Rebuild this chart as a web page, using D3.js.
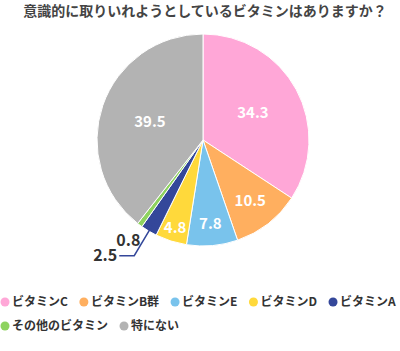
<!DOCTYPE html>
<html>
<head>
<meta charset="utf-8">
<script src="https://cdn.jsdelivr.net/npm/d3@7"></script>
<style>
  body { margin: 0; background: #fff; }
  svg { font-family: "Noto Sans CJK JP", "Noto Sans", sans-serif; font-weight: bold; }
</style>
</head>
<body>
<div id="chart"></div>
<script>
const title = '意識的に取りいれようとしているビタミンはありますか？';
const categories = ['ビタミンC', 'ビタミンB群', 'ビタミンE', 'ビタミンD', 'ビタミンA', 'その他のビタミン', '特にない'];
const values = [34.3, 10.5, 7.8, 4.8, 2.5, 0.8, 39.5];
const colors = ['#FFA7D7', '#FFAF5F', '#79C3EC', '#FFD93B', '#34479A', '#8ED35F', '#B3B3B3'];

const width = 400;
const height = 351;
const cx = 203, cy = 140, radius = 106;

const svg = d3.select('#chart').append('svg')
    .attr('width', width)
    .attr('height', height);

// title
svg.append('text')
    .attr('x', 205)
    .attr('y', 16)
    .attr('text-anchor', 'middle')
    .style('font-size', '14px')
    .style('fill', '#444')
    .text(title);

const data = categories.map((c, i) => ({ name: c, value: values[i], color: colors[i] }));

const pie = d3.pie().value(d => d.value).sort(null);
const arcs = pie(data);
const arc = d3.arc().innerRadius(0).outerRadius(radius);

const g = svg.append('g').attr('transform', 'translate(' + cx + ',' + cy + ')');

g.selectAll('path')
    .data(arcs)
    .join('path')
    .attr('d', arc)
    .attr('fill', d => d.data.color)
    .attr('stroke', '#fff')
    .attr('stroke-width', 1);

// small slices get their labels further out
const labelR = d3.scaleLinear().domain([5, 10, 35]).range([0.87, 0.73, 0.53]).clamp(true);
const mid = d => (d.startAngle + d.endAngle) / 2;
const polar = (a, r) => [Math.sin(a) * r, -Math.cos(a) * r];

const inside = arcs.filter(d => d.data.value >= 4);
g.selectAll('text.in')
    .data(inside)
    .join('text')
    .attr('class', 'in')
    .attr('x', d => polar(mid(d), labelR(d.data.value) * radius)[0])
    .attr('y', d => polar(mid(d), labelR(d.data.value) * radius)[1])
    .attr('text-anchor', 'middle')
    .attr('dy', '0.35em')
    .style('font-size', '15px')
    .style('fill', '#fff')
    .text(d => d.data.value.toFixed(1));

// outside labels
const small = arcs.filter(d => d.data.value < 4);
small.forEach(d => {
    const a = mid(d);
    if (d.data.value >= 2) {
        // leader line
        const p0 = polar(a, radius * 0.87);
        const p1 = polar(a, radius * 1.27);
        const p2 = [p1[0] - 15, p1[1]];
        g.append('polyline')
            .attr('points', [p0, p1, p2].map(p => p.join(',')).join(' '))
            .attr('fill', 'none')
            .attr('stroke', d.data.color)
            .attr('stroke-width', 1.5);
        g.append('text')
            .attr('x', p2[0] - 2)
            .attr('y', p2[1])
            .attr('dy', '0.35em')
            .attr('text-anchor', 'end')
            .style('font-size', '16px')
            .style('fill', '#333')
            .text(d.data.value.toFixed(1));
    } else {
        const p = polar(a, radius * 1.18);
        g.append('text')
            .attr('x', p[0])
            .attr('y', p[1])
            .attr('dy', '0.35em')
            .attr('text-anchor', 'middle')
            .style('font-size', '16px')
            .style('fill', '#333')
            .text(d.data.value.toFixed(1));
    }
});

// legend, flowing left to right
const legend = svg.append('g');
let lx = 5, ly = 302;
data.forEach(d => {
    const item = legend.append('g');
    item.append('circle')
        .attr('cx', lx)
        .attr('cy', ly)
        .attr('r', 4.5)
        .attr('fill', d.color);
    const t = item.append('text')
        .attr('x', lx + 7)
        .attr('y', ly)
        .attr('dy', '0.35em')
        .style('font-size', '12px')
        .style('fill', '#333')
        .text(d.name);
    const w = t.node().getComputedTextLength();
    if (lx + 7 + w > width + 1) {
        lx = 5; ly += 24;
        item.select('circle').attr('cx', lx).attr('cy', ly);
        t.attr('x', lx + 7).attr('y', ly);
    }
    lx += 7 + w + 16;
});
</script>
</body>
</html>
